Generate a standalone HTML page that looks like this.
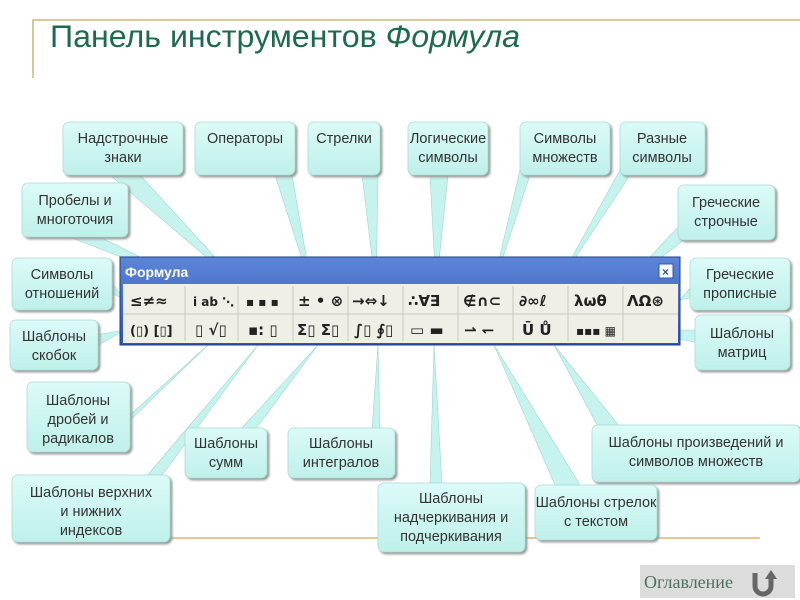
<!DOCTYPE html>
<html><head><meta charset="utf-8"><style>
body{margin:0;width:800px;height:600px;background:#fff;overflow:hidden;font-family:"Liberation Sans",sans-serif}
svg{position:absolute;left:0;top:0}
</style></head><body>
<svg width="800" height="600" viewBox="0 0 800 600" font-family="Liberation Sans, sans-serif">
<defs>
<linearGradient id="g" x1="0" y1="0" x2="0" y2="1"><stop offset="0" stop-color="#dcfbf8"/><stop offset="1" stop-color="#bff0ea"/></linearGradient>
<linearGradient id="tb" x1="0" y1="0" x2="0" y2="1"><stop offset="0" stop-color="#5d86d6"/><stop offset="1" stop-color="#2d55b8"/></linearGradient>
</defs>
<path d="M33 78 V20 H800" fill="none" stroke="#c9b77a" stroke-width="1.5"/>
<text x="50" y="47" font-size="31.5" fill="#1e6a4e" textLength="470" lengthAdjust="spacingAndGlyphs">Панель инструментов <tspan font-style="italic">Формула</tspan></text>
<line x1="170" y1="538" x2="760" y2="538" stroke="#e6c98a" stroke-width="2"/>

<g fill="#c6f3ee" stroke="#9cd6d0" stroke-width="0.6">
<polygon points="110,175 140,175 245,290"/>
<polygon points="275,175 292,175 312,290"/>
<polygon points="362,175 378,175 376,290"/>
<polygon points="430,175 448,175 436,290"/>
<polygon points="520,170 530,175 492,290"/>
<polygon points="620,170 630,175 554,290"/>
<polygon points="70,237 100,237 205,290"/>
<polygon points="680,225 690,235 617,292"/>
<polygon points="110,280 110,292 125,300"/>
<polygon points="95,335 95,347 125,330"/>
<polygon points="120,430 130,415 208,345"/>
<polygon points="145,478 160,478 258,345"/>
<polygon points="240,430 255,430 318,345"/>
<polygon points="372,430 380,430 378,345"/>
<polygon points="430,485 442,485 434,345"/>
<polygon points="555,485 580,485 494,345"/>
<polygon points="600,430 620,427 554,345"/>
<polygon points="695,330 695,342 630,330"/>
<polygon points="690,288 690,298 680,300"/>
</g>

<rect x="120" y="257" width="560" height="88" fill="url(#tb)" stroke="#1d3e8c"/>
<text x="125" y="277" font-size="14" fill="#fff" font-weight="bold">Формула</text>
<rect x="659" y="264" width="14" height="14" fill="#fff" stroke="#2d55b8"/>
<text x="662" y="276" font-size="12" fill="#2d55b8" font-weight="bold">×</text>
<rect x="123" y="284" width="555" height="59" fill="#efefe8"/>
<line x1="123" y1="314" x2="678" y2="314" stroke="#c9c9c0"/>
<g stroke="#c9c9c0">
<line x1="185" y1="286" x2="185" y2="341"/><line x1="238" y1="286" x2="238" y2="341"/><line x1="293" y1="286" x2="293" y2="341"/><line x1="348" y1="286" x2="348" y2="341"/><line x1="403" y1="286" x2="403" y2="341"/><line x1="458" y1="286" x2="458" y2="341"/><line x1="513" y1="286" x2="513" y2="341"/><line x1="568" y1="286" x2="568" y2="341"/><line x1="623" y1="286" x2="623" y2="341"/>
</g>
<g font-size="15" fill="#222" font-family="DejaVu Sans, sans-serif" font-weight="bold">
<text x="130" y="306">≤≠≈</text><text x="193" y="306" font-size="12">i ab ⋱</text><text x="246" y="306" font-size="12">▪ ▪ ▪</text>
<text x="298" y="306">± • ⊗</text><text x="352" y="306">→⇔↓</text><text x="408" y="306">∴∀∃</text>
<text x="463" y="306">∉∩⊂</text><text x="519" y="306">∂∞ℓ</text><text x="574" y="306">λωθ</text><text x="627" y="306">ΛΩ⊛</text>
<text x="130" y="335" font-size="13">(▯) [▯]</text><text x="195" y="335">▯ √▯</text><text x="248" y="335">▪: ▯</text>
<text x="297" y="335">Σ▯ Σ▯</text><text x="354" y="335">∫▯ ∮▯</text><text x="410" y="335">▭ ▬</text>
<text x="464" y="335">⇀ ↽</text><text x="522" y="335">Ū Ů</text><text x="576" y="335" font-size="12">▪▪▪ ▦</text>
</g>

<g fill="url(#g)" stroke="#a8dcd6" stroke-width="0.8" style="filter:drop-shadow(2px 2px 1px #999)">
<rect x="63" y="122" width="120" height="53" rx="6"/>
<rect x="195" y="122" width="100" height="53" rx="6"/>
<rect x="308" y="122" width="72" height="53" rx="6"/>
<rect x="408" y="122" width="80" height="53" rx="6"/>
<rect x="520" y="122" width="90" height="53" rx="6"/>
<rect x="620" y="122" width="85" height="53" rx="6"/>
<rect x="22" y="183" width="106" height="54" rx="6"/>
<rect x="678" y="185" width="97" height="55" rx="6"/>
<rect x="12" y="258" width="100" height="52" rx="6"/>
<rect x="690" y="258" width="100" height="52" rx="6"/>
<rect x="10" y="320" width="88" height="50" rx="6"/>
<rect x="695" y="315" width="95" height="55" rx="6"/>
<rect x="27" y="382" width="103" height="70" rx="6"/>
<rect x="12" y="475" width="158" height="67" rx="6"/>
<rect x="185" y="428" width="82" height="50" rx="6"/>
<rect x="288" y="428" width="107" height="50" rx="6"/>
<rect x="378" y="483" width="147" height="69" rx="6"/>
<rect x="535" y="485" width="122" height="55" rx="6"/>
<rect x="592" y="425" width="208" height="57" rx="6"/>
</g>
<g font-size="14.5" fill="#333" text-anchor="middle">
<text x="123" y="143">Надстрочные</text><text x="123" y="162">знаки</text>
<text x="245" y="143">Операторы</text>
<text x="344" y="143">Стрелки</text>
<text x="448" y="143">Логические</text><text x="448" y="162">символы</text>
<text x="565" y="143">Символы</text><text x="565" y="162">множеств</text>
<text x="662" y="143">Разные</text><text x="662" y="162">символы</text>
<text x="75" y="205">Пробелы и</text><text x="75" y="224">многоточия</text>
<text x="726" y="207">Греческие</text><text x="726" y="226">строчные</text>
<text x="62" y="279">Символы</text><text x="62" y="298">отношений</text>
<text x="740" y="279">Греческие</text><text x="740" y="298">прописные</text>
<text x="54" y="341">Шаблоны</text><text x="54" y="360">скобок</text>
<text x="742" y="338">Шаблоны</text><text x="742" y="357">матриц</text>
<text x="78" y="405">Шаблоны</text><text x="78" y="424">дробей и</text><text x="78" y="443">радикалов</text>
<text x="91" y="497">Шаблоны верхних</text><text x="91" y="516">и нижних</text><text x="91" y="535">индексов</text>
<text x="226" y="448">Шаблоны</text><text x="226" y="467">сумм</text>
<text x="341" y="448">Шаблоны</text><text x="341" y="467">интегралов</text>
<text x="451" y="503">Шаблоны</text><text x="451" y="522">надчеркивания и</text><text x="451" y="541">подчеркивания</text>
<text x="596" y="507">Шаблоны стрелок</text><text x="596" y="526">с текстом</text>
<text x="696" y="447">Шаблоны произведений и</text><text x="696" y="466">символов множеств</text>
</g>

<rect x="640" y="565" width="155" height="33" fill="#dcdcdc"/>
<text x="644" y="588" font-size="18" fill="#4f6f5f" font-family="Liberation Serif, serif">Оглавление</text>
<path d="M755 573 V586 A8 8 0 0 0 771 586 V578" fill="none" stroke="#666" stroke-width="5"/>
<polygon points="765,579 777,579 771,570" fill="#666"/>
</svg>
</body></html>
